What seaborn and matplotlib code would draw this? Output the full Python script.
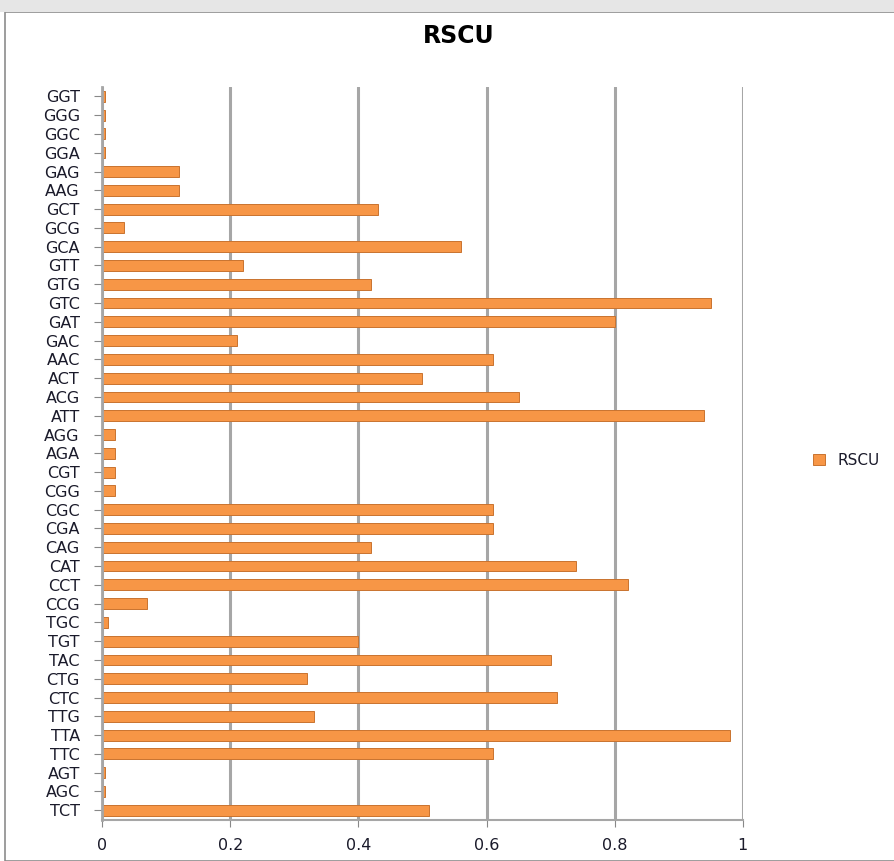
import pandas as pd
import matplotlib.pyplot as plt
import seaborn as sns
from matplotlib.patches import Rectangle

# codons listed top to bottom as in the chart
codons = ["GGT", "GGG", "GGC", "GGA", "GAG", "AAG", "GCT", "GCG", "GCA", "GTT",
          "GTG", "GTC", "GAT", "GAC", "AAC", "ACT", "ACG", "ATT", "AGG", "AGA",
          "CGT", "CGG", "CGC", "CGA", "CAG", "CAT", "CCT", "CCG", "TGC", "TGT",
          "TAC", "CTG", "CTC", "TTG", "TTA", "TTC", "AGT", "AGC", "TCT"]
rscu = [0.005, 0.005, 0.005, 0.005, 0.12, 0.12, 0.43, 0.034, 0.56, 0.22,
        0.42, 0.95, 0.80, 0.21, 0.61, 0.50, 0.65, 0.94, 0.02, 0.02,
        0.02, 0.02, 0.61, 0.61, 0.42, 0.74, 0.82, 0.07, 0.01, 0.40,
        0.70, 0.32, 0.71, 0.33, 0.98, 0.61, 0.005, 0.005, 0.51]
xticks = [0, 0.2, 0.4, 0.6, 0.8, 1]
xtick_labels = ["0", "0.2", "0.4", "0.6", "0.8", "1"]

df = pd.DataFrame({"codon": codons, "RSCU": rscu})

sns.set_style("white")
plt.rcParams["font.family"] = ["DejaVu Sans"]

fig = plt.figure(figsize=(8.95, 8.61), dpi=100)
ax = fig.add_axes([0.114, 0.048, 0.716, 0.851])

sns.barplot(data=df, x="RSCU", y="codon", orient="h", color="#F79646",
            saturation=1, edgecolor="#C9732F", linewidth=0.7, width=0.58,
            ax=ax, label="RSCU")

ax.set_xlim(0, 1)
ax.set_xticks(xticks)
ax.set_xticklabels(xtick_labels, fontsize=11.5, color="#1A1A2A")
for lbl in ax.get_yticklabels():
    lbl.set_fontsize(11.5)
    lbl.set_color("#1A1A2A")
ax.set_xlabel("")
ax.set_ylabel("")
ax.tick_params(axis="y", length=6, color="#888888", left=True, pad=10)
ax.tick_params(axis="x", length=5, color="#888888", bottom=True, pad=8)
ax.xaxis.grid(True, color="#A6A6A6", linewidth=2.2)
ax.set_axisbelow(True)
for side in ["top", "right"]:
    ax.spines[side].set_visible(False)
ax.spines["left"].set_color("#A6A6A6")
ax.spines["left"].set_linewidth(2)
ax.spines["bottom"].set_color("#A6A6A6")
ax.spines["bottom"].set_linewidth(1.5)

fig.suptitle("RSCU", x=0.512, y=0.972, fontsize=17, fontweight="bold", color="black")

handles, labels = ax.get_legend_handles_labels()
ax.legend(handles, labels, loc="center left", bbox_to_anchor=(0.893, 0.465),
          bbox_transform=fig.transFigure, frameon=False, fontsize=11,
          handlelength=0.8, handleheight=0.7, handletextpad=0.8,
          labelcolor="#1A1A2A")

# chart area border like the spreadsheet export
fig.patches.append(Rectangle((0.006, 0.0), 1.2, 0.986, transform=fig.transFigure,
                             fill=False, edgecolor="#8C8C8C", linewidth=1.2))
fig.patches.append(Rectangle((0.0, 0.986), 1.0, 0.014, transform=fig.transFigure,
                             facecolor="#E6E6E6", edgecolor="none"))

fig.savefig("out.png", dpi=100)
